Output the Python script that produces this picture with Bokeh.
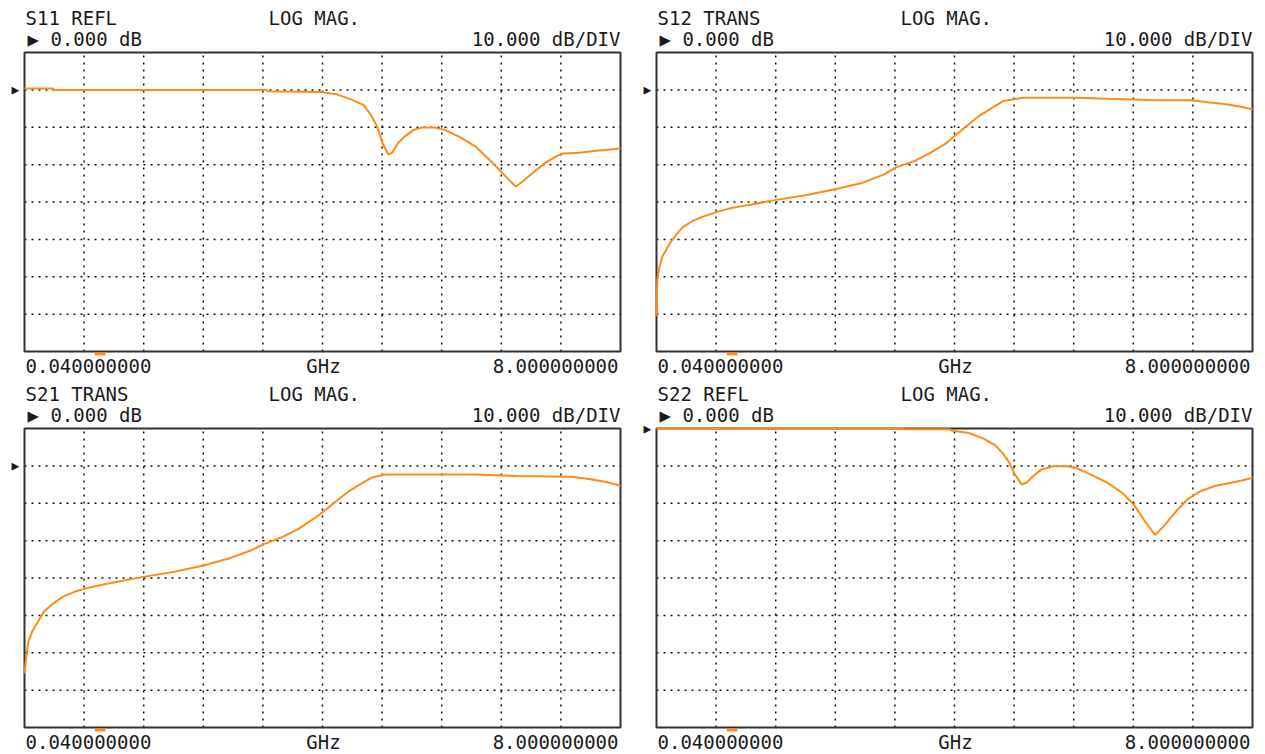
from bokeh.plotting import figure
from bokeh.models import Range1d, Label, BoxAnnotation
from bokeh.layouts import column, row
from bokeh.embed import file_html
from bokeh.resources import INLINE

# ---------------- data (read from the analyser screens) ----------------
F_START = 0.04          # GHz
F_STOP = 8.0            # GHz
DB_PER_DIV = 10.0
N_XDIV = 10
N_YDIV = 8
MARKER_GHZ = 1.05

s11_f = [0.04, 0.42, 0.43, 3.27, 3.29, 4.00, 4.21, 4.41, 4.57, 4.67,
         4.75, 4.82, 4.90, 4.95, 5.03, 5.13, 5.24, 5.34, 5.52, 5.65,
         5.85, 6.06, 6.27, 6.42, 6.60, 6.68, 6.83, 6.99, 7.14, 7.24,
         7.45, 7.71, 8.00]
s11_db = [0.4, 0.4, 0.0, 0.0, -0.35, -0.6, -1.2, -2.6, -4.1, -6.8,
          -9.8, -14.2, -17.3, -16.8, -14.2, -12.3, -10.7, -10.1, -10.1, -10.7,
          -12.6, -15.1, -19.1, -22.2, -25.9, -24.7, -22.2, -19.6, -17.8, -17.0,
          -16.8, -16.2, -15.7]

s12_f = [0.04, 0.05, 0.08, 0.12, 0.17, 0.22, 0.30, 0.40, 0.53, 0.66,
         0.84, 1.02, 1.27, 1.62, 2.05, 2.42, 2.77, 3.08, 3.23, 3.49,
         3.69, 3.90, 4.03, 4.21, 4.36, 4.52, 4.67, 4.82, 4.93, 5.65,
         6.06, 6.63, 7.19, 7.40, 7.60, 7.81, 8.00]
s12_db = [-60.5, -50.8, -47.2, -44.5, -42.8, -41.0, -38.8, -36.6, -35.0, -33.9,
          -32.7, -31.7, -30.8, -29.5, -28.1, -26.6, -25.0, -22.6, -20.8, -19.0,
          -16.9, -14.4, -12.2, -9.2, -6.8, -4.8, -3.0, -2.5, -2.1, -2.1,
          -2.4, -2.7, -2.8, -3.3, -3.7, -4.4, -5.2]

s21_f = [0.04, 0.061, 0.091, 0.143, 0.22, 0.297, 0.40, 0.555, 0.709, 0.838,
         1.017, 1.275, 1.625, 2.047, 2.417, 2.767, 3.076, 3.23, 3.487, 3.693,
         3.899, 4.027, 4.207, 4.362, 4.516, 4.671, 4.85, 6.06, 6.626, 7.346,
         7.603, 7.809, 8.0]
s21_db = [-55.5, -51.5, -47.0, -44.3, -41.7, -39.0, -37.2, -35.0, -33.7, -32.9,
          -32.1, -31.0, -29.7, -28.3, -26.7, -24.8, -22.5, -21.0, -19.0, -16.9,
          -14.2, -12.3, -9.4, -6.9, -5.0, -3.2, -2.3, -2.3, -2.7, -2.9,
          -3.6, -4.3, -5.3]

s22_f = [0.04, 3.33, 3.34, 3.95, 4.00, 4.21, 4.41, 4.57, 4.67, 4.75,
         4.82, 4.92, 4.98, 5.08, 5.18, 5.34, 5.52, 5.65, 5.85, 6.06,
         6.27, 6.42, 6.57, 6.70, 6.83, 6.99, 7.14, 7.30, 7.50, 7.71,
         7.86, 8.00]
s22_db = [0.0, 0.0, -0.2, -0.2, -0.6, -1.2, -2.7, -4.6, -6.8, -9.0,
          -12.1, -15.0, -14.5, -12.6, -11.0, -10.1, -10.1, -10.6, -12.4, -14.5,
          -17.4, -20.5, -25.0, -28.5, -25.8, -21.9, -18.8, -16.8, -15.4, -14.5,
          -13.9, -13.2]

titles = ["S11 REFL", "S12 TRANS", "S21 TRANS", "S22 REFL"]
fmt_label = "LOG MAG."
ref_label = "\u25B6 0.000 dB"
scale_label = "10.000 dB/DIV"
start_label = "0.040000000"
unit_label = "GHz"
stop_label = "8.000000000"
ref_value = 0.0
ref_div_from_top = [1, 1, 1, 0]

# ---------------- style ----------------
FONT = "DejaVu Sans Mono"
FS = "19px"
TXT = "#1a1a1a"
TRACE = "#FF8A14"
GRID = "#111111"
FRAME_W = 596   # graticule size in px
FRAME_H = 299


def make_panel(idx, f, db, width, height, fl, bt):
    """fl: graticule left offset, bt: graticule top offset (px)."""
    br = width - fl - FRAME_W
    bb = height - bt - FRAME_H
    top = ref_value + ref_div_from_top[idx] * DB_PER_DIV
    bottom = top - N_YDIV * DB_PER_DIV
    kx = (F_STOP - F_START) / FRAME_W
    ky = (top - bottom) / FRAME_H
    p = figure(width=width, height=height,
               x_range=Range1d(F_START - fl * kx, F_STOP + br * kx),
               y_range=Range1d(bottom - bb * ky, top + bt * ky),
               x_axis_type=None, y_axis_type=None,
               toolbar_location=None, output_backend="svg",
               min_border=0, outline_line_color=None,
               background_fill_color="white", border_fill_color="white")

    step_x = (F_STOP - F_START) / N_XDIV
    xt = [F_START + k * step_x for k in range(1, N_XDIV)]
    yt = [bottom + k * DB_PER_DIV for k in range(1, N_YDIV)]
    # dotted graticule
    p.segment(x0=xt, y0=[bottom] * len(xt), x1=xt, y1=[top] * len(xt),
              line_color=GRID, line_dash="2 5", line_width=1.5)
    p.segment(x0=[F_START] * len(yt), y0=yt, x1=[F_STOP] * len(yt), y1=yt,
              line_color=GRID, line_dash="2 5", line_width=1.5)
    # graticule frame
    p.quad(left=[F_START], right=[F_STOP], bottom=[bottom], top=[top],
           fill_alpha=0, line_color="#333333", line_width=2)

    # trace
    p.line(f, db, line_color=TRACE, line_width=2)

    def lab(text, x, y, align="left", yu="screen"):
        p.add_layout(Label(x=x, y=y, x_units="screen", y_units=yu, text=text,
                           text_align=align, text_baseline="middle",
                           text_font=FONT, text_font_size=FS, text_color=TXT))

    hy1 = bb + FRAME_H + 35
    hy2 = bb + FRAME_H + 13.5
    fy = bb - 14
    lab(titles[idx], fl + 1, hy1)
    lab(fmt_label, fl + 244, hy1)
    lab(ref_label, fl + 3, hy2)
    lab(scale_label, fl + FRAME_W, hy2, "right")
    lab(start_label, fl + 1, fy)
    lab(unit_label, fl + 299, fy, "center")
    lab(stop_label, fl + FRAME_W - 2, fy, "right")
    # reference position arrow
    p.add_layout(Label(x=fl - 9, y=ref_value, x_units="screen", y_units="data",
                       text="\u25B6", text_align="center", text_baseline="middle",
                       text_font=FONT, text_font_size="13px", text_color=TXT))
    # marker indicator below graticule
    p.add_layout(BoxAnnotation(left=MARKER_GHZ - 0.07, right=MARKER_GHZ + 0.07,
                               top=bb - 1, bottom=bb - 4, top_units="screen",
                               bottom_units="screen", fill_color=TRACE,
                               fill_alpha=1.0, line_alpha=0))
    return p


p1 = make_panel(0, s11_f, s11_db, 640, 377, 24, 52)
p2 = make_panel(1, s12_f, s12_db, 617, 377, 16, 52)
p3 = make_panel(2, s21_f, s21_db, 640, 377, 24, 51)
p4 = make_panel(3, s22_f, s22_db, 617, 377, 16, 51)

layout = column(row(p1, p2), row(p3, p4))
open("out.html", "w").write(file_html(layout, INLINE, title="S-parameters"))
